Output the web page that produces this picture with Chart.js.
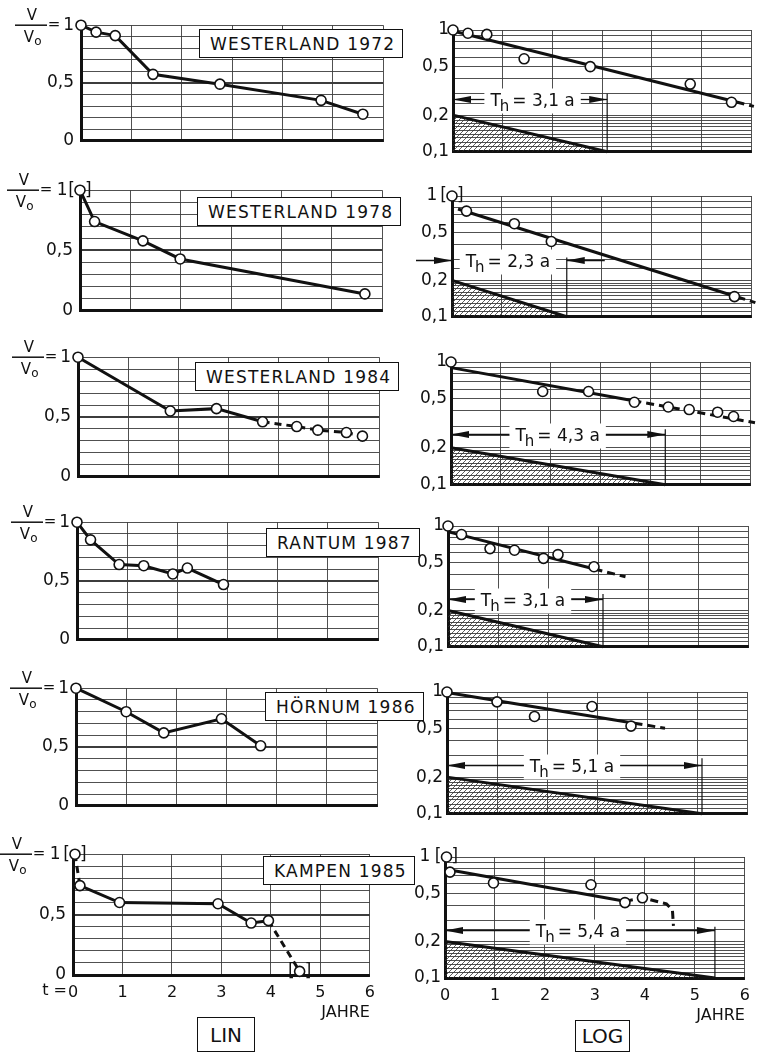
<!DOCTYPE html>
<html>
<head>
<meta charset="utf-8">
<title>V/Vo Sylt</title>
<script src="https://cdn.jsdelivr.net/npm/chart.js@4.4.1/dist/chart.umd.min.js"></script>
<style>
  body { margin: 0; width: 758px; height: 1055px; background: #fff; position: relative; overflow: hidden; font-family: "DejaVu Sans", sans-serif; color: #111; }
  canvas { position: absolute; }
  .site { position: absolute; z-index: 5; background: #fff; border: 1.5px solid #111; font-size: 17px; letter-spacing: 1.2px; height: 27px; line-height: 28px; padding: 0 7px 0 10px; white-space: nowrap; }
  .mode { position: absolute; z-index: 5; background: #fff; border: 1.5px solid #111; font-size: 20px; text-align: center; }
</style>
</head>
<body>
<div class="mode" style="left:197px;top:1017px;width:56px;height:33px;line-height:34px">LIN</div>
<div class="mode" style="left:575px;top:1020px;width:53px;height:30px;line-height:31px">LOG</div>
<script>
// ---------------- data (t = years, V/Vo remaining volume) ----------------
const siteNames = ['WESTERLAND 1972', 'WESTERLAND 1978', 'WESTERLAND 1984', 'RANTUM 1987', 'HÖRNUM 1986', 'KAMPEN 1985'];

const w72T = [0, 0.30, 0.68, 1.43, 2.76, 4.77, 5.60];
const w72Lin = [1.0, 0.94, 0.91, 0.575, 0.49, 0.35, 0.23];
const w72Log = [1.0, 0.94, 0.92, 0.58, 0.50, 0.36, 0.255];

const w78T = [0, 0.29, 1.25, 1.99, 5.66];
const w78Lin = [1.0, 0.74, 0.58, 0.43, 0.14];
const w78Log = [1.0, 0.75, 0.59, 0.42, 0.147];

const w84T = [0, 1.84, 2.76, 3.68, 4.36, 4.78, 5.35, 5.67];
const w84Lin = [1.0, 0.55, 0.57, 0.46, 0.42, 0.39, 0.37, 0.34];
const w84Log = [1.0, 0.575, 0.575, 0.47, 0.43, 0.41, 0.39, 0.36];

const ra87T = [0, 0.27, 0.84, 1.33, 1.91, 2.20, 2.92];
const ra87Lin = [1.0, 0.85, 0.64, 0.63, 0.56, 0.61, 0.47];
const ra87Log = [1.0, 0.85, 0.65, 0.63, 0.54, 0.58, 0.46];

const ho86T = [0, 1.0, 1.75, 2.90, 3.68];
const ho86Lin = [1.0, 0.80, 0.62, 0.74, 0.51];
const ho86Log = [1.0, 0.83, 0.63, 0.76, 0.525];

const ka85T = [0.04, 0.14, 0.94, 2.93, 3.60, 3.95, 4.58];
const ka85Lin = [1.0, 0.74, 0.60, 0.59, 0.43, 0.45, 0.03];
const ka85LogT = [0.03, 0.10, 0.97, 2.92, 3.60, 3.95];
const ka85Log = [1.0, 0.75, 0.61, 0.59, 0.42, 0.46];

// decay lines drawn in the LOG panels
const w72FitT = [0, 5.7, 6.05];
const w72FitV = [0.98, 0.256, 0.236];
const w78FitT = [0.12, 5.72, 6.08];
const w78FitV = [0.78, 0.146, 0.131];
const w84FitT = [0, 3.66, 6.1];
const w84FitV = [0.90, 0.484, 0.32];
const ra87FitT = [0.03, 2.93, 3.55];
const ra87FitV = [0.89, 0.44, 0.38];
const ho86FitT = [0.09, 3.75, 4.36];
const ho86FitV = [0.975, 0.554, 0.504];
const ka85FitT = [0.1, 3.6, 3.95, 4.43, 4.55, 4.57];
const ka85FitV = [0.78, 0.43, 0.46, 0.41, 0.365, 0.27];

// half-life T_h in years
const halfLives = [3.1, 2.3, 4.3, 3.1, 5.1, 5.4];

// axis ticks
const yearTicks = [0, 1, 2, 3, 4, 5, 6];
const linTickValues = [0, 0.5, 1];
const linTickText = ['0', '0,5', '1'];
const logTickValues = [0.1, 0.2, 0.5, 1];
const logTickText = ['0,1', '0,2', '0,5', '1'];

const rows = [
  { name: siteNames[0], linT: w72T, linV: w72Lin, logT: w72T, logV: w72Log, fitT: w72FitT, fitV: w72FitV, th: halfLives[0] },
  { name: siteNames[1], linT: w78T, linV: w78Lin, logT: w78T, logV: w78Log, fitT: w78FitT, fitV: w78FitV, th: halfLives[1] },
  { name: siteNames[2], linT: w84T, linV: w84Lin, logT: w84T, logV: w84Log, fitT: w84FitT, fitV: w84FitV, th: halfLives[2] },
  { name: siteNames[3], linT: ra87T, linV: ra87Lin, logT: ra87T, logV: ra87Log, fitT: ra87FitT, fitV: ra87FitV, th: halfLives[3] },
  { name: siteNames[4], linT: ho86T, linV: ho86Lin, logT: ho86T, logV: ho86Log, fitT: ho86FitT, fitV: ho86FitV, th: halfLives[4] },
  { name: siteNames[5], linT: ka85T, linV: ka85Lin, logT: ka85LogT, logV: ka85Log, fitT: ka85FitT, fitV: ka85FitV, th: halfLives[5] }
];

// ---------------- layout / look per row ----------------
// plot areas in page px [left, top, right, bottom]
const look = [
  { lin: [81, 24, 383, 144], log: [453, 30, 753, 152], title: [199, 29], linDash: [], linBr: [], logBr: [], arrowAt: 0.27, markTop: 0.30, labelAt: 1.6, outside: false },
  { lin: [80, 189, 382, 314], log: [452, 196, 752, 317], title: [197, 197], linDash: [], linBr: [0], logBr: [0], arrowAt: 0.295, markTop: 0.31, labelAt: 1.12, outside: true },
  { lin: [78, 356, 379, 480], log: [451, 362, 750, 485], title: [195, 362], linDash: [3, 4, 5, 6], linBr: [], logBr: [], arrowAt: 0.26, markTop: 0.283, labelAt: 2.14, outside: false },
  { lin: [77, 521, 378, 643], log: [448, 526, 748, 647], title: [266, 528], linDash: [], linBr: [], logBr: [], arrowAt: 0.248, markTop: 0.274, labelAt: 1.5, outside: false },
  { lin: [76, 687, 377, 809], log: [447, 692, 747, 814], title: [265, 692], linDash: [], linBr: [], logBr: [], arrowAt: 0.25, markTop: 0.286, labelAt: 2.5, outside: false },
  { lin: [73, 853, 375, 975], log: [445, 857, 745, 978], title: [263, 856], linDash: [0, 5], linBr: [0, 6], logBr: [0], arrowAt: 0.25, markTop: 0.265, labelAt: 2.66, outside: false }
];

const INK = '#111';
const GRID = '#3c3c3c';
const FONT = '"DejaVu Sans", sans-serif';

function pts(xs, ys) {
  return xs.map((x, i) => ({ x: x, y: ys[i] }));
}

function near(a, b) { return Math.abs(a - b) < 1e-6; }

// tick labels; when the first point is bracketed the "1" moves left (pad) to make room for "["
function tickText(values, texts, pad) {
  return function (v) {
    for (let i = 0; i < values.length; i++) {
      if (near(v, values[i])) return near(v, 1) ? texts[i] + pad : texts[i];
    }
    return '';
  };
}

// hatching for the half-life triangle
const hatch = (function () {
  const c = document.createElement('canvas');
  c.width = 5; c.height = 5;
  const g = c.getContext('2d');
  g.strokeStyle = '#333';
  g.lineWidth = 0.8;
  g.beginPath();
  g.moveTo(-1, 6); g.lineTo(6, -1);
  g.moveTo(-1, 1); g.lineTo(1, -1);
  g.moveTo(4, 6); g.lineTo(6, 4);
  g.stroke();
  return g.createPattern(c, 'repeat');
})();

function arrowHead(ctx, x, y, dir) {
  ctx.beginPath();
  ctx.moveTo(x, y);
  ctx.lineTo(x - dir * 18, y - 3.5);
  ctx.lineTo(x - dir * 18, y + 3.5);
  ctx.closePath();
  ctx.fill();
}

function hLine(ctx, a, b, y) {
  ctx.beginPath(); ctx.moveTo(a, y); ctx.lineTo(b, y); ctx.stroke();
}

// "T_h = x,x a" with arrows
function halfLifeMark(chart, lk, th) {
  const ctx = chart.ctx, ca = chart.chartArea, sx = chart.scales.x, sy = chart.scales.y;
  const y = Math.round(sy.getPixelForValue(lk.arrowAt)) + 0.5;
  const xa = ca.left, xb = sx.getPixelForValue(th);
  const xc = sx.getPixelForValue(lk.labelAt);
  const rest = '= ' + th.toFixed(1).replace('.', ',') + ' a';
  ctx.save();
  ctx.font = '17px ' + FONT;
  const wT = ctx.measureText('T').width, wR = ctx.measureText(rest).width;
  ctx.font = '15px ' + FONT;
  const wh = ctx.measureText('h').width;
  const w = wT + wh + 2 + wR;
  const x0 = xc - w / 2;
  ctx.fillStyle = '#fff';
  ctx.fillRect(x0 - 6, y - 11, w + 12, 25);
  ctx.fillStyle = INK;
  ctx.textBaseline = 'alphabetic';
  ctx.font = '17px ' + FONT;
  ctx.fillText('T', x0, y + 6);
  ctx.font = '15px ' + FONT;
  ctx.fillText('h', x0 + wT - 1, y + 11);
  ctx.font = '17px ' + FONT;
  ctx.fillText(rest, x0 + wT + wh + 2, y + 6);
  ctx.strokeStyle = INK;
  ctx.lineWidth = 1.3;
  if (lk.outside) {
    hLine(ctx, xa - 36, xa, y); arrowHead(ctx, xa, y, 1);
    hLine(ctx, xb, xb + 38, y); arrowHead(ctx, xb, y, -1);
  } else {
    hLine(ctx, xa, x0 - 6, y); arrowHead(ctx, xa, y, -1);
    hLine(ctx, x0 + w + 6, xb, y); arrowHead(ctx, xb, y, 1);
  }
  ctx.restore();
}

// [o] brackets round the points left out
function brackets(chart, idx) {
  if (!idx.length) return;
  const ctx = chart.ctx, meta = chart.getDatasetMeta(0);
  ctx.save();
  ctx.fillStyle = INK;
  ctx.font = '17px ' + FONT;
  ctx.textBaseline = 'middle';
  idx.forEach(i => {
    const p = meta.data[i];
    ctx.textAlign = 'right';
    ctx.fillText('[', p.x - 5, p.y);
    ctx.textAlign = 'left';
    ctx.fillText(']', p.x + 5, p.y);
  });
  ctx.restore();
}

// V/Vo = on the LIN panels (shift moves it left when "1[" needs room)
function vOverVo(chart, shift) {
  const ctx = chart.ctx, L = chart.chartArea.left - shift;
  const y = chart.scales.y.getPixelForValue(1);
  ctx.save();
  ctx.fillStyle = INK; ctx.strokeStyle = INK; ctx.lineWidth = 1.5;
  ctx.textAlign = 'center'; ctx.textBaseline = 'middle';
  ctx.font = '15px ' + FONT;
  ctx.fillText('V', L - 49, y - 9);
  ctx.fillText('V', L - 52, y + 13);
  ctx.fillText('=', L - 27, y);
  ctx.font = '12px ' + FONT;
  ctx.fillText('o', L - 43, y + 17);
  ctx.beginPath(); ctx.moveTo(L - 66, y); ctx.lineTo(L - 34, y); ctx.stroke();
  ctx.restore();
}

function makePanel(r, lk, kind, last) {
  const box = kind === 'lin' ? lk.lin : lk.log;
  const L = box[0], T = box[1], R = box[2], B = box[3];
  const cx = kind === 'lin' ? 0 : 395;
  const cy = T - 16;
  const cw = kind === 'lin' ? R + 8 : 758 - cx;
  const axisH = last ? 47 : 0;
  const ch = B - cy + (last ? axisH : 14);
  const brFirst = (kind === 'lin' ? lk.linBr : lk.logBr).includes(0);

  const cv = document.createElement('canvas');
  cv.width = cw; cv.height = ch;
  cv.style.left = cx + 'px'; cv.style.top = cy + 'px';
  document.body.appendChild(cv);

  let datasets, extra;
  if (kind === 'lin') {
    datasets = [{
      data: pts(r.linT, r.linV),
      showLine: true,
      borderColor: INK, borderWidth: 3,
      pointRadius: 5, pointBackgroundColor: '#fff', pointBorderColor: INK, pointBorderWidth: 1.6,
      segment: { borderDash: c => lk.linDash.includes(c.p0DataIndex) ? [7, 5] : undefined },
      clip: false
    }];
    extra = {
      id: 'linExtra',
      afterDatasetsDraw: chart => { brackets(chart, lk.linBr); vOverVo(chart, brFirst ? 7 : 0); }
    };
  } else {
    datasets = [
      {
        data: pts(r.logT, r.logV), showLine: false,
        pointRadius: 5, pointBackgroundColor: '#fff', pointBorderColor: INK, pointBorderWidth: 1.6, clip: false
      },
      {
        data: pts(r.fitT, r.fitV), showLine: true, pointRadius: 0,
        borderColor: INK, borderWidth: 3,
        segment: { borderDash: c => c.p0DataIndex >= 1 ? [8, 5] : undefined },
        clip: false
      },
      {
        data: [{ x: r.th, y: 0.1 }, { x: r.th, y: lk.markTop }], showLine: true, pointRadius: 0,
        borderColor: INK, borderWidth: 1.2, clip: false
      },
      {
        data: [{ x: 0, y: 0.2 }, { x: r.th, y: 0.1 }], showLine: true, pointRadius: 0,
        borderColor: INK, borderWidth: 3, fill: 'start', backgroundColor: hatch, clip: false
      }
    ];
    extra = {
      id: 'logExtra',
      beforeDatasetsDraw: chart => halfLifeMark(chart, lk, r.th),
      afterDatasetsDraw: chart => brackets(chart, lk.logBr)
    };
  }

  const plugins = [extra];
  if (last && kind === 'lin') {
    plugins.push({
      id: 'tEquals',
      afterDraw: chart => {
        const ctx = chart.ctx;
        ctx.save();
        ctx.fillStyle = INK; ctx.font = '16px ' + FONT;
        ctx.textAlign = 'right'; ctx.textBaseline = 'top';
        ctx.fillText('t =', chart.scales.x.getPixelForValue(0) - 6, chart.chartArea.bottom + 8);
        ctx.restore();
      }
    });
  }

  const pad = !brFirst ? '' : (kind === 'lin' ? ' ' : '  ');

  new Chart(cv, {
    type: 'scatter',
    data: { datasets: datasets },
    plugins: plugins,
    options: {
      responsive: false,
      animation: false,
      events: [],
      layout: { padding: { left: 0, top: 16, right: cw - (R - cx), bottom: last ? 0 : 14 } },
      plugins: { legend: { display: false }, tooltip: { enabled: false } },
      scales: {
        x: {
          type: 'linear', min: 0, max: 6,
          afterFit: s => { s.height = axisH; },
          afterBuildTicks: s => { s.ticks = yearTicks.map(v => ({ value: v })); },
          ticks: { display: last, autoSkip: false, maxRotation: 0, padding: 8, color: INK, font: { size: 16, family: FONT }, callback: v => String(v) },
          grid: { color: GRID, lineWidth: 0.9, drawTicks: false },
          border: { color: INK, width: 3 },
          title: { display: last, text: 'JAHRE', align: 'end', color: INK, font: { size: 16, family: FONT }, padding: { top: 0, bottom: 0 } }
        },
        y: kind === 'lin' ? {
          type: 'linear', min: 0, max: 1,
          afterFit: s => { s.width = L - cx; },
          ticks: { stepSize: 0.1, autoSkip: false, padding: 7, color: INK, font: { size: 17, family: FONT }, callback: tickText(linTickValues, linTickText, pad) },
          grid: { color: GRID, drawTicks: false, lineWidth: c => near(c.tick.value, 0.5) ? 2 : 0.9 },
          border: { color: INK, width: 3 }
        } : {
          type: 'logarithmic', min: 0.1, max: 1,
          afterFit: s => { s.width = L - cx; },
          ticks: { autoSkip: false, padding: 4, color: INK, font: { size: 17, family: FONT }, callback: tickText(logTickValues, logTickText, pad) },
          grid: { color: GRID, drawTicks: false, lineWidth: 0.9 },
          border: { color: INK, width: 3 }
        }
      }
    }
  });
}

rows.forEach((r, i) => {
  const lk = look[i];
  const last = i === rows.length - 1;
  makePanel(r, lk, 'lin', last);
  makePanel(r, lk, 'log', last);

  const t = document.createElement('div');
  t.className = 'site';
  t.style.left = lk.title[0] + 'px';
  t.style.top = lk.title[1] + 'px';
  t.textContent = r.name;
  document.body.appendChild(t);
});
</script>
</body>
</html>
